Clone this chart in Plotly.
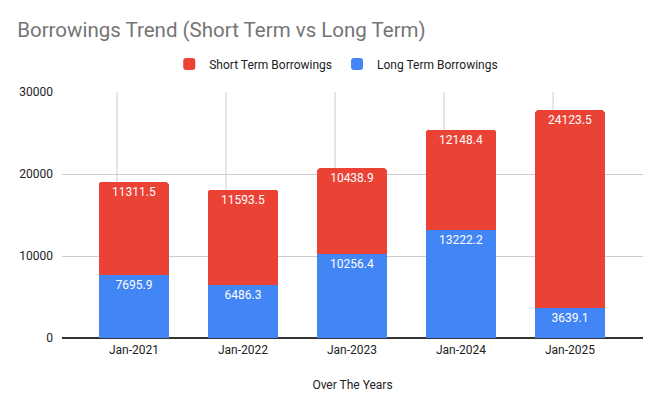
import plotly.graph_objects as go

# Borrowings data
years = ["Jan-2021", "Jan-2022", "Jan-2023", "Jan-2024", "Jan-2025"]
long_term = [7695.9, 6486.3, 10256.4, 13222.2, 3639.1]
short_term = [11311.5, 11593.5, 10438.9, 12148.4, 24123.5]
y_ticks = [0, 10000, 20000, 30000]

BLUE = "#4285F4"
RED = "#EA4335"
GRID = "#cccccc"
FONT = "Roboto, Arial, sans-serif"

xpos = list(range(len(years)))

fig = go.Figure()
fig.add_trace(go.Bar(
    x=xpos, y=long_term, name="Long Term Borrowings",
    marker=dict(color=BLUE, line=dict(width=0)),
    text=long_term, texttemplate="%{y:.1f}",
    textposition="inside", insidetextanchor="end", textangle=0,
    textfont=dict(color="white", size=12, family=FONT),
    legendrank=2,
))
fig.add_trace(go.Bar(
    x=xpos, y=short_term, name="Short Term Borrowings",
    marker=dict(color=RED, line=dict(width=0)),
    text=short_term, texttemplate="%{y:.1f}",
    textposition="inside", insidetextanchor="end", textangle=0,
    textfont=dict(color="white", size=12, family=FONT),
    legendrank=1,
))

# Sheets-style vertical gridlines sit a bit left of each category
for i in xpos:
    fig.add_shape(type="line", xref="x", yref="y",
                  x0=i - 0.155, x1=i - 0.155, y0=0, y1=30000,
                  line=dict(color=GRID, width=1), layer="below")

# page body adds an 8px margin, so the figure is a bit smaller than the window
fig.update_layout(
    width=656, height=403,
    barmode="stack", bargap=0.36, barcornerradius=3,
    plot_bgcolor="white", paper_bgcolor="white",
    font=dict(family=FONT, size=12, color="#222222"),
    margin=dict(l=54, r=21, t=84, b=73),
    title=dict(text="Borrowings Trend (Short Term vs Long Term)",
               x=0.014, xanchor="left", y=0.946, yanchor="middle",
               font=dict(size=20.5, color="#757575", family=FONT)),
    legend=dict(orientation="h", x=0.472, xanchor="center",
                y=1.114, yanchor="middle", traceorder="normal",
                font=dict(size=12, color="#222222"),
                itemclick=False),
    showlegend=True,
)
fig.update_xaxes(
    tickmode="array", tickvals=xpos, ticktext=years,
    range=[-0.66, 4.67], showgrid=False, zeroline=False,
    showline=False, ticks="", ticklabelstandoff=3,
    title=dict(text="Over The Years", font=dict(size=12, color="#222222"),
               standoff=24),
)
fig.update_yaxes(
    range=[0, 30000], tickvals=y_ticks, showgrid=True, gridcolor=GRID,
    zeroline=True, zerolinecolor="#333333", zerolinewidth=1.5,
    ticks="", tickformat="d", ticklabelstandoff=8,
)

fig.write_html("out.html")
